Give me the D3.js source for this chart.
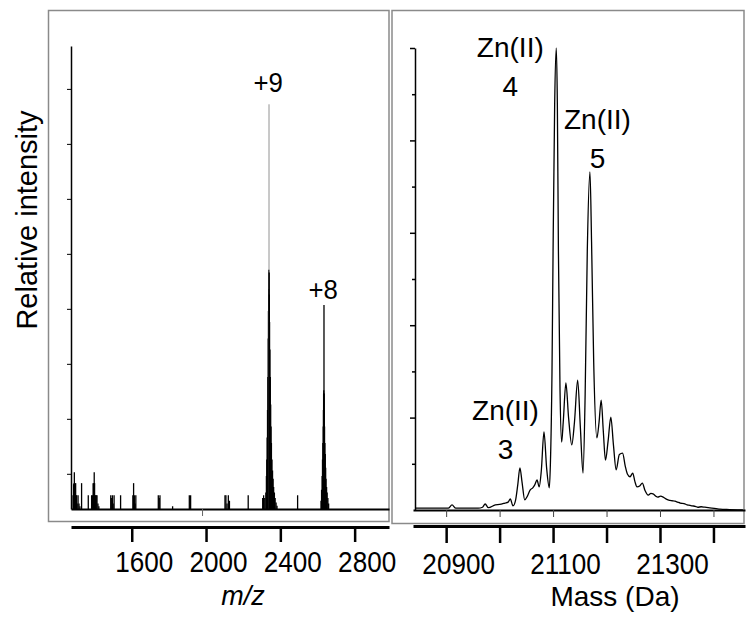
<!DOCTYPE html>
<html>
<head>
<meta charset="utf-8">
<script src="https://cdn.jsdelivr.net/npm/d3@7"></script>
<style>
  body { margin: 0; background: #fff; }
  svg { display: block; }
  text { font-family: "Liberation Sans", Arial, Helvetica, sans-serif; fill: #000; }
</style>
</head>
<body>
<svg id="chart" width="754" height="625"></svg>
<script>
// ---- left panel: stick spectrum (m/z vs relative intensity) ----
const stickMz = [
  1284, 1287, 1289, 1291, 1293, 1295, 1298, 1300, 1303, 1306, 1311, 1316, 1321, 1330,
  1366,
  1384, 1388, 1392, 1395, 1398, 1400, 1403, 1406, 1409, 1413, 1418, 1423,
  1487, 1490, 1496, 1500, 1505, 1540,
  1606, 1610, 1614, 1618, 1622,
  1743, 1748, 1752, 1820, 1910, 1917,
  2102, 2107, 2113, 2120, 2126, 2227,
  2305, 2310, 2316,
  2322, 2325, 2327, 2329, 2331, 2333, 2335, 2336, 2337, 2338, 2339, 2340, 2341, 2342,
  2344, 2346, 2348, 2350, 2352, 2355, 2358, 2361, 2364, 2368, 2372, 2377, 2382,
  2493,
  2619, 2622, 2625, 2627, 2629, 2631, 2632, 2633, 2634, 2635, 2636, 2637, 2638, 2640,
  2642, 2644, 2646, 2649, 2652, 2656, 2660
];
const stickInt = [
  0.25, 0.45, 0.47, 0.67, 0.47, 0.25, 0.47, 0.25, 0.25, 0.10, 0.25, 0.10, 0.05, 0.47,
  0.25,
  0.25, 0.25, 0.47, 0.47, 0.67, 0.47, 0.25, 0.25, 0.25, 0.25, 0.10, 0.05,
  0.25, 0.20, 0.25, 0.10, 0.25, 0.25,
  0.25, 0.47, 0.25, 0.10, 0.25,
  0.25, 0.20, 0.25, 0.05, 0.25, 0.25,
  0.25, 0.25, 0.10, 0.25, 0.15, 0.25,
  0.20, 0.25, 0.20,
  0.30, 0.60, 0.90, 1.30, 1.80, 2.40, 3.10, 3.60, 4.00, 4.35, 7.36, 4.30, 3.90, 3.40,
  2.90, 2.40, 1.90, 1.50, 1.20, 0.90, 0.70, 0.55, 0.40, 0.30, 0.20, 0.12, 0.06,
  0.25,
  0.15, 0.35, 0.60, 0.90, 1.20, 1.50, 1.80, 2.10, 2.16, 3.71, 2.10, 1.80, 1.50, 1.20,
  1.00, 0.75, 0.55, 0.40, 0.30, 0.20, 0.10
];
const mzTicks = [1600, 2000, 2400, 2800];
const mzInnerTicks = [2000];
const leftYTicks = [0.64, 1.64, 2.64, 3.64, 4.64, 5.64, 6.64, 7.64];
const leftPeakLabels = [
  { text: "+9", mz: 2334, v: 7.58 },
  { text: "+8", mz: 2630, v: 3.81 }
];

// ---- right panel: deconvoluted mass spectrum ----
const massDa = [
  20842, 20870, 20904, 20911, 20918, 20960, 20968, 20973, 20979, 20992, 21000, 21010,
  21016, 21020, 21025, 21030, 21034, 21038, 21042, 21047, 21052, 21057, 21062, 21066,
  21070, 21074, 21078, 21083, 21088, 21093, 21095, 21098, 21100, 21103, 21106, 21108,
  21110, 21113, 21116, 21119, 21124, 21129, 21135, 21140, 21146, 21151, 21156, 21160,
  21164, 21169, 21172, 21176, 21182, 21186, 21190, 21194, 21198, 21203, 21208, 21213,
  21218, 21224, 21230, 21235, 21239, 21244, 21249, 21253, 21257, 21262, 21267, 21272,
  21278, 21283, 21287, 21292, 21296, 21301, 21306, 21311, 21315, 21322, 21328, 21333,
  21338, 21345, 21351, 21356, 21360, 21366, 21371, 21377, 21384, 21390, 21397, 21405,
  21412, 21430, 21455
];
const massInt = [
  0.04, 0.04, 0.04, 0.11, 0.04, 0.04, 0.06, 0.13, 0.05, 0.11, 0.12, 0.15,
  0.17, 0.24, 0.09, 0.22, 0.55, 0.91, 0.60, 0.22, 0.30, 0.43, 0.48, 0.55,
  0.65, 0.50, 0.85, 1.69, 0.90, 0.48, 1.00, 3.00, 5.60, 8.80, 10.0, 8.80,
  5.60, 2.60, 1.47, 1.90, 2.75, 2.00, 1.41, 1.90, 2.81, 1.80, 0.80, 2.50,
  5.60, 7.32, 5.80, 3.20, 1.56, 1.90, 2.38, 1.70, 1.08, 1.50, 2.01, 1.40,
  0.87, 1.20, 1.23, 0.95, 0.78, 0.72, 0.80, 0.62, 0.50, 0.52, 0.58, 0.42,
  0.32, 0.36, 0.35, 0.30, 0.28, 0.30, 0.28, 0.24, 0.22, 0.20, 0.19, 0.17,
  0.15, 0.14, 0.11, 0.10, 0.09, 0.08, 0.06, 0.07, 0.06, 0.05, 0.04, 0.03,
  0.02, 0.01, 0.00
];
const massTicks = [20900, 21000, 21100, 21200, 21300, 21400];
const massTickLabels = ["20900", "", "21100", "", "21300", ""];
const rightYTicks = [1, 2, 3, 4, 5, 6, 7, 8, 9, 10];
const znLabels = [
  { line1: "Zn(II)", line2: "4", da: 21020, v: 9.8 },
  { line1: "Zn(II)", line2: "5", da: 21183, v: 8.25 },
  { line1: "Zn(II)", line2: "3", da: 21011, v: 1.95 }
];

const svg = d3.select("#chart");

// scales
const xMz = d3.scaleLinear().domain([1273, 2985]).range([71, 389]);
const yL = d3.scaleLinear().domain([0, 8.42]).range([509, 46]);
const xDa = d3.scaleLinear().domain([20838, 21459]).range([413, 745]);
const yR = d3.scaleLinear().domain([0, 10]).range([510, 48]);

// panel frames
svg.append("rect")
  .attr("x", 48.5).attr("y", 10.5).attr("width", 340.5).attr("height", 511)
  .attr("fill", "none").attr("stroke", "#8a8a8a").attr("stroke-width", 1.5);
svg.append("rect")
  .attr("x", 392).attr("y", 10.5).attr("width", 352).attr("height", 513)
  .attr("fill", "none").attr("stroke", "#8a8a8a").attr("stroke-width", 1.5);

// left sticks
const sticks = d3.zip(stickMz, stickInt);
svg.append("g")
  .selectAll("line")
  .data(sticks)
  .join("line")
  .attr("x1", d => xMz(d[0]))
  .attr("x2", d => xMz(d[0]))
  .attr("y1", yL(0))
  .attr("y2", d => yL(d[1]))
  .attr("stroke", d => d[1] > 3.6 && d[1] > 4.36 ? "#777" : "#000")
  .attr("stroke-width", d => d[1] > 4.36 ? 0.8 : 1.3);

// left inner axes
const lAxisY = svg.append("g")
  .attr("transform", "translate(71,0)")
  .call(d3.axisLeft(yL).tickValues(leftYTicks).tickSize(4).tickSizeOuter(0).tickFormat(""));
const lAxisX = svg.append("g")
  .attr("transform", "translate(0,509)")
  .call(d3.axisBottom(xMz).tickValues(mzInnerTicks).tickSize(7).tickSizeOuter(0).tickFormat(""));
lAxisY.select(".domain").attr("stroke-width", 1.5);
lAxisX.select(".domain").attr("stroke-width", 1.8);
lAxisX.selectAll(".tick line").attr("stroke", "#666").attr("transform", "translate(-4,0)");

// left peak labels
svg.append("g")
  .selectAll("text")
  .data(leftPeakLabels)
  .join("text")
  .attr("transform", d => `translate(${xMz(d.mz)},${yL(d.v)}) scale(0.92,1)`)
  .attr("text-anchor", "middle")
  .style("font-size", "28px")
  .text(d => d.text);

// left outer axis
const lOuter = svg.append("g")
  .attr("transform", "translate(0,527)")
  .call(d3.axisBottom(xMz).tickValues(mzTicks).tickSize(15).tickSizeOuter(0)
    .tickFormat(d3.format("d")));
lOuter.select(".domain").attr("stroke-width", 3);
lOuter.selectAll(".tick line").attr("stroke-width", 2.5);
lOuter.selectAll(".tick text")
  .attr("y", 0).attr("dy", 0)
  .attr("transform", "translate(12,45) scale(0.9,1)")
  .style("font-size", "29px")
  .style("font-family", "'Liberation Sans', Arial, sans-serif");

svg.append("text")
  .attr("x", 243).attr("y", 605)
  .attr("text-anchor", "middle")
  .style("font-size", "27px")
  .style("font-style", "italic")
  .text("m/z");

svg.append("text")
  .attr("transform", "translate(37,220) rotate(-90)")
  .attr("text-anchor", "middle")
  .style("font-size", "29px")
  .text("Relative intensity");

// right spectrum
const massPts = d3.zip(massDa, massInt);
svg.append("path")
  .datum(massPts)
  .attr("fill", "none")
  .attr("stroke", "#000")
  .attr("stroke-width", 1.3)
  .attr("d", d3.line().x(d => xDa(d[0])).y(d => yR(d[1])).curve(d3.curveMonotoneX));

// right inner axes
const rAxisY = svg.append("g")
  .attr("transform", "translate(415,0)")
  .call(d3.axisLeft(yR).tickValues(rightYTicks).tickSize(5).tickSizeOuter(0).tickFormat(""));
rAxisY.select(".domain").attr("stroke-width", 1.5);
rAxisY.selectAll(".tick line")
  .attr("x2", d => d % 2 === 0 ? -5 : -3)
  .attr("stroke-width", 1.5);
const rAxisX = svg.append("g")
  .attr("transform", "translate(0,510)")
  .call(d3.axisBottom(xDa).tickValues(massTicks).tickSize(7).tickSizeOuter(0).tickFormat(""));
rAxisX.select(".domain").attr("stroke-width", 1.8);
rAxisX.selectAll(".tick line").attr("stroke", "#444");

// Zn(II) labels
const zn = svg.append("g").selectAll("g")
  .data(znLabels)
  .join("g")
  .attr("transform", d => `translate(${xDa(d.da)},${yR(d.v)})`);
zn.append("text")
  .attr("text-anchor", "middle")
  .attr("y", 0)
  .style("font-size", "28px")
  .text(d => d.line1);
zn.append("text")
  .attr("text-anchor", "middle")
  .attr("y", 39)
  .style("font-size", "28px")
  .text(d => d.line2);

// right outer axis
const rOuter = svg.append("g")
  .attr("transform", "translate(0,526)")
  .call(d3.axisBottom(xDa).tickValues(massTicks).tickSize(17).tickSizeOuter(0)
    .tickFormat((d, i) => massTickLabels[i]));
rOuter.select(".domain").attr("stroke-width", 3);
rOuter.selectAll(".tick line").attr("stroke-width", 2.5);
rOuter.selectAll(".tick text")
  .attr("y", 0).attr("dy", 0)
  .attr("transform", "translate(12,48) scale(0.9,1)")
  .style("font-size", "29px")
  .style("font-family", "'Liberation Sans', Arial, sans-serif");

svg.append("text")
  .attr("x", 615).attr("y", 606)
  .attr("text-anchor", "middle")
  .style("font-size", "28px")
  .text("Mass (Da)");
</script>
</body>
</html>
